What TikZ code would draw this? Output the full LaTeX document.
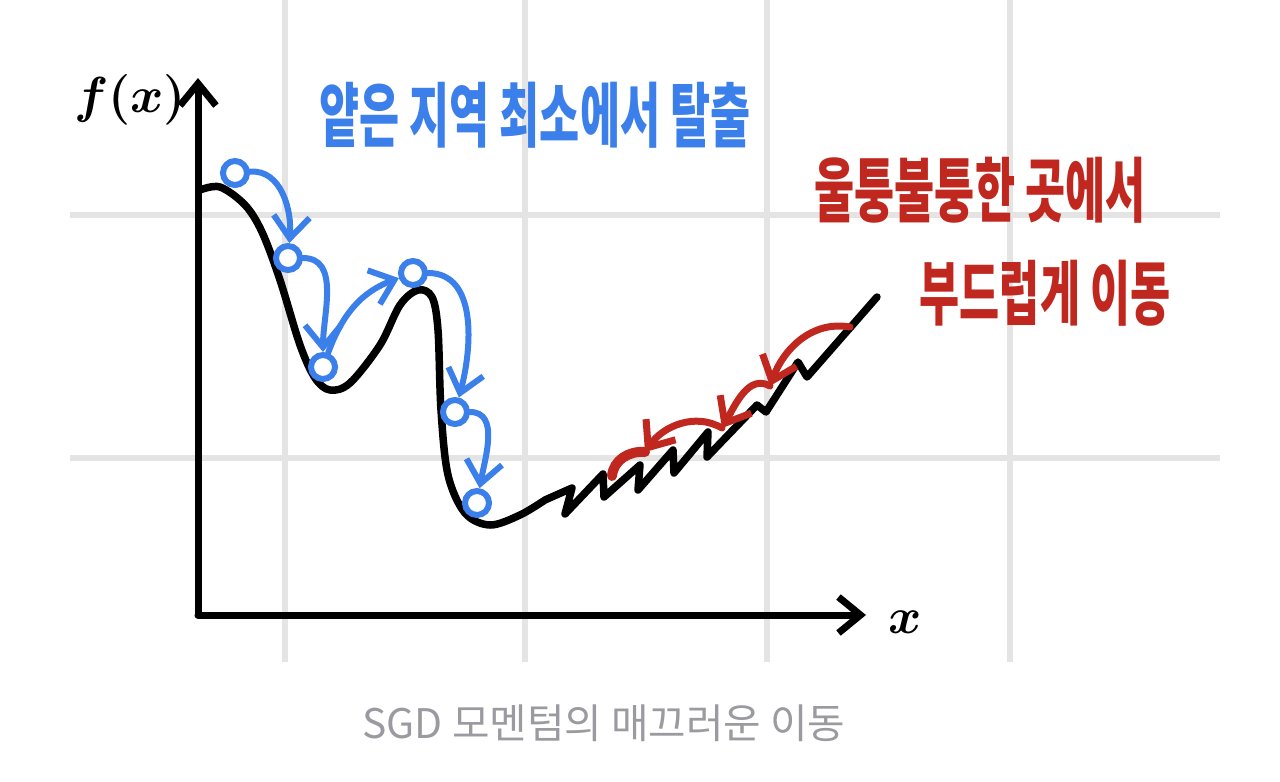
\documentclass[tikz,border=0pt]{standalone}
\usepackage{fontspec}
\newfontfamily\kr{Noto Sans CJK KR}
\usepackage{tikz}
\usetikzlibrary{arrows.meta}
\definecolor{gridgray}{HTML}{E4E4E4}
\definecolor{sgdblue}{HTML}{3B7FEB}
\definecolor{sgdred}{HTML}{C0271E}
\definecolor{capgray}{HTML}{9A9AA0}

\begin{document}
\begin{tikzpicture}[
  x=0.1mm, y=0.1mm,
  >={Straight Barb[length=2.2mm, width=3.6mm]},
  every node/.style={inner sep=0pt},
  gridline/.style={line width=0.6mm, draw=gridgray},
  axis/.style={->, line width=0.7mm, line cap=round, line join=round},
  curve/.style={line width=0.75mm, line cap=round, line join=round},
  ball/.style={circle, draw=sgdblue, line width=0.6mm, fill=white,
    minimum size=2.4mm},
  barr/.style={->, draw=sgdblue, line width=0.6mm, line cap=round},
  rarr/.style={->, draw=sgdred, line width=0.7mm, line cap=round},
  axis label/.style={font=\boldmath\fontsize{15}{18}\selectfont},
  blue label/.style={text=sgdblue, font=\kr\bfseries\fontsize{20}{24}\selectfont},
  red label/.style={text=sgdred, font=\kr\bfseries\fontsize{20}{24}\selectfont}
]
\useasboundingbox (0,0) rectangle (1280,-781);

% background grid
\foreach \gx in {285, 525, 767, 1010}
  \draw[gridline] (\gx,0) -- (\gx,-662);
\foreach \gy in {215, 458}
  \draw[gridline] (70,-\gy) -- (1220,-\gy);

% axes
\coordinate (orig) at (198,-615);
\coordinate (ytop) at (198,-78);
\coordinate (xend) at (866,-615);
\draw[axis] (orig) -- (ytop);
\draw[axis] (orig) -- (xend);
\node[axis label] (fx) at (130,-100) {$f(x)$};
\node[axis label] (xl) at (905,-622) {$x$};

% loss curve: smooth part, then rough part
\draw[curve] plot[smooth, tension=0.55] coordinates {
  (200,-190) (220,-187) (245,-205) (262,-232) (280,-280) (300,-345)
  (315,-378) (330,-390) (350,-383) (380,-345) (400,-305) (418,-290)
  (432,-297) (438,-330) (441,-410) (448,-475) (465,-513) (490,-525)
  (520,-515) (545,-500)}
  -- (572,-488) -- (565,-514) -- (603,-474) -- (604,-497) -- (640,-465)
  -- (638,-490) -- (673,-450) -- (674,-473) -- (708,-432) -- (707,-457)
  -- (757,-405) -- (766,-412) -- (798,-362) -- (807,-377) -- (877,-297);

% SGD steps escaping the local minimum
\node[ball] (p1) at (235,-173) {};
\node[ball] (p2) at (288,-258) {};
\node[ball] (p3) at (323,-367) {};
\node[ball] (p4) at (413,-273) {};
\node[ball] (p5) at (455,-412) {};
\node[ball] (p6) at (477,-503) {};
\draw[barr] (p1) to[out=5, in=85] (p2);
\draw[barr] (p2) to[out=0, in=90] (p3);
\draw[barr] (p3) to[out=70, in=200] (p4);
\draw[barr] (p4) to[out=0, in=75] (p5);
\draw[barr] (p5) to[out=0, in=80] (p6);

% momentum steps on the rough part
\coordinate (r0) at (850,-327);
\coordinate (r1) at (770,-386);
\coordinate (r2) at (722,-428);
\coordinate (r3) at (645,-452);
\coordinate (r4) at (612,-476);
\draw[rarr] (r0) to[out=170, in=70] (r1);
\draw[rarr] (r1) to[out=150, in=60] (r2);
\draw[rarr] (r2) to[out=150, in=55] (r3);
\draw[draw=sgdred, line width=1mm, line cap=round] (r3) to[out=175, in=85] (r4);

% labels
\node[blue label] (esc) at (535,-115) {\scalebox{0.62}[1]{얕은 지역 최소에서 탈출}};
\node[red label] (rough) at (980,-190) {\scalebox{0.62}[1]{울퉁불퉁한 곳에서}};
\node[red label] (smooth) at (1045,-293) {\scalebox{0.62}[1]{부드럽게 이동}};
\node[text=capgray, font=\kr\fontsize{11.6}{14}\selectfont] (cap) at (604,-723)
  {SGD 모멘텀의 매끄러운 이동};
\end{tikzpicture}
\end{document}
